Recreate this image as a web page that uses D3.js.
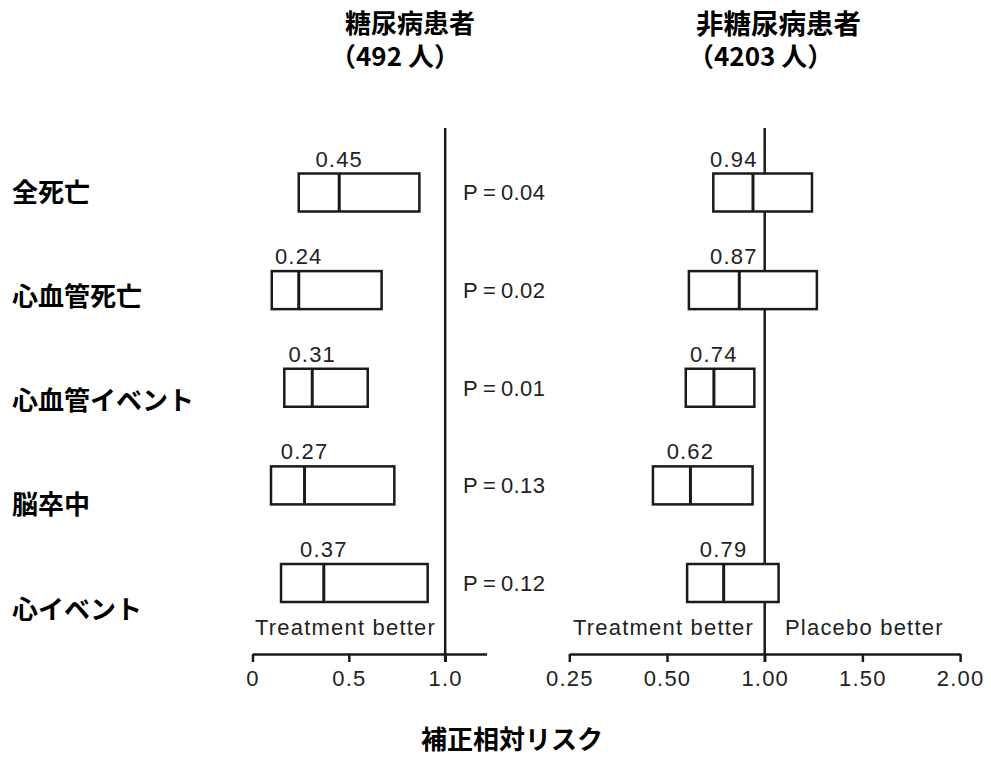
<!DOCTYPE html>
<html>
<head>
<meta charset="utf-8">
<script src="https://cdn.jsdelivr.net/npm/d3@7"></script>
<style>
  html, body { margin: 0; padding: 0; background: #fff; }
  svg { display: block; }
  .num { font-family: "Liberation Sans", Arial, sans-serif; font-size: 22px; fill: #222; letter-spacing: 1.2px; }
  .jp { font-family: "Noto Sans CJK JP", sans-serif; font-weight: 700; fill: #000; }
</style>
</head>
<body>
<svg id="chart" width="991" height="757"></svg>
<script>
// ---- data ----
const categories = ["全死亡", "心血管死亡", "心血管イベント", "脳卒中", "心イベント"];
const diabetesRR   = [0.45, 0.24, 0.31, 0.27, 0.37];
const diabetesLow  = [0.24, 0.10, 0.165, 0.096, 0.148];
const diabetesHigh = [0.866, 0.670, 0.598, 0.736, 0.909];
const diabetesP    = [0.04, 0.02, 0.01, 0.13, 0.12];
const nonDiabetesRR   = [0.94, 0.87, 0.74, 0.62, 0.79];
const nonDiabetesLow  = [0.737, 0.612, 0.596, 0.464, 0.603];
const nonDiabetesHigh = [1.242, 1.267, 0.947, 0.938, 1.071];
const leftTicks  = [0, 0.5, 1.0];
const rightTicks = [0.25, 0.50, 1.00, 1.50, 2.00];
const leftTitle  = ["糖尿病患者", "（492 人）"];
const rightTitle = ["非糖尿病患者", "（4203 人）"];
const xTitle = "補正相対リスク";
const betterLabels = ["Treatment better", "Placebo better"];

// ---- layout ----
const svg = d3.select("#chart");
svg.append("rect").attr("width", 991).attr("height", 757).attr("fill", "#fff");

const axisY = 654;
const refTop = 128;
const boxH = 38;
const ink = "#1a1a1a";

const xL = d3.scaleLinear().domain([0, 1.215]).range([252.5, 252.5 + 1.215 * 192.7]);
const rStep = 97.7;
const xR = d3.scaleLinear().domain(rightTicks).range(rightTicks.map((d, i) => 569.3 + i * rStep));

const yBox = d3.scalePoint().domain(categories).range([192.5, 583]);
const yLab = d3.scalePoint().domain(categories).range([190, 607]);

// row labels
svg.append("g").selectAll("text").data(categories).join("text")
  .attr("class", "jp")
  .attr("x", 12)
  .attr("y", d => yLab(d))
  .attr("dominant-baseline", "central")
  .attr("font-size", 26)
  .text(d => d);

// titles (two lines in one text element)
function title(lines, x1, size1, x2) {
  const t = svg.append("text").attr("class", "jp");
  t.append("tspan").attr("x", x1).attr("y", 21.5).attr("dominant-baseline", "central")
    .attr("font-size", size1).text(lines[0]);
  t.append("tspan").attr("x", x2).attr("y", 54).attr("dominant-baseline", "central")
    .attr("font-size", 26).text(lines[1]);
}
title(leftTitle, 345, 26, 330);
title(rightTitle, 696, 27.5, 688);

// x title
svg.append("text").attr("class", "jp").attr("x", 421).attr("y", 737.5)
  .attr("dominant-baseline", "central").attr("font-size", 26).text(xTitle);

function panel(x, rr, low, high, ticks, fmt) {
  const g = svg.append("g");
  // reference line at 1
  g.append("line").attr("x1", x(1)).attr("x2", x(1)).attr("y1", refTop).attr("y2", axisY + 8)
    .attr("stroke", ink).attr("stroke-width", 2.5);
  // axis
  const ax = g.append("g").attr("transform", `translate(0,${axisY})`)
    .call(d3.axisBottom(x).tickValues(ticks).tickSize(8).tickSizeOuter(0).tickPadding(8).tickFormat(fmt));
  ax.select(".domain").attr("stroke", ink).attr("stroke-width", 2.5);
  ax.selectAll(".tick line").attr("stroke", ink).attr("stroke-width", 2.5);
  ax.selectAll(".tick text").attr("class", "num").attr("font-size", null).attr("font-family", null)
    .attr("fill", null).attr("dy", "0.71em");
  // boxes
  const rows = categories.map((c, i) => ({ c, rr: rr[i], lo: low[i], hi: high[i] }));
  g.selectAll("rect.ci").data(rows).join("rect").attr("class", "ci")
    .attr("x", d => x(d.lo)).attr("width", d => x(d.hi) - x(d.lo))
    .attr("y", d => yBox(d.c) - boxH / 2).attr("height", boxH)
    .attr("fill", "#fff").attr("stroke", ink).attr("stroke-width", 2.5);
  g.selectAll("line.med").data(rows).join("line").attr("class", "med")
    .attr("x1", d => x(d.rr)).attr("x2", d => x(d.rr))
    .attr("y1", d => yBox(d.c) - boxH / 2).attr("y2", d => yBox(d.c) + boxH / 2)
    .attr("stroke", ink).attr("stroke-width", 3);
  g.selectAll("text.val").data(rows).join("text").attr("class", "val num")
    .attr("x", d => x(d.rr)).attr("y", d => yBox(d.c) - boxH / 2 - 7)
    .attr("text-anchor", "middle").text(d => d3.format(".2f")(d.rr))
    .each(function (d) {
      // keep value labels clear of the reference line
      const w = this.getComputedTextLength();
      const ref = x(1);
      if (x(d.rr) < ref && x(d.rr) + w / 2 > ref - 7) {
        d3.select(this).attr("x", ref - 7 - w / 2);
      }
    });
  return g;
}

panel(xL, diabetesRR, diabetesLow, diabetesHigh, leftTicks, d => d === 0 ? "0" : d3.format(".1f")(d));
panel(xR, nonDiabetesRR, nonDiabetesLow, nonDiabetesHigh, rightTicks, d3.format(".2f"));

// p-values
svg.append("g").selectAll("text").data(categories).join("text").attr("class", "num")
  .attr("x", 463).attr("y", d => yBox(d)).attr("dy", "0.36em")
  .style("letter-spacing", "0.4px")
  .text((d, i) => "P\u2009=\u2009" + d3.format(".2f")(diabetesP[i]));

// better labels
svg.append("text").attr("class", "num").attr("x", 255).attr("y", 635).text(betterLabels[0]);
svg.append("text").attr("class", "num").attr("x", 573).attr("y", 635).text(betterLabels[0]);
svg.append("text").attr("class", "num").attr("x", 785).attr("y", 635).text(betterLabels[1]);
</script>
</body>
</html>
